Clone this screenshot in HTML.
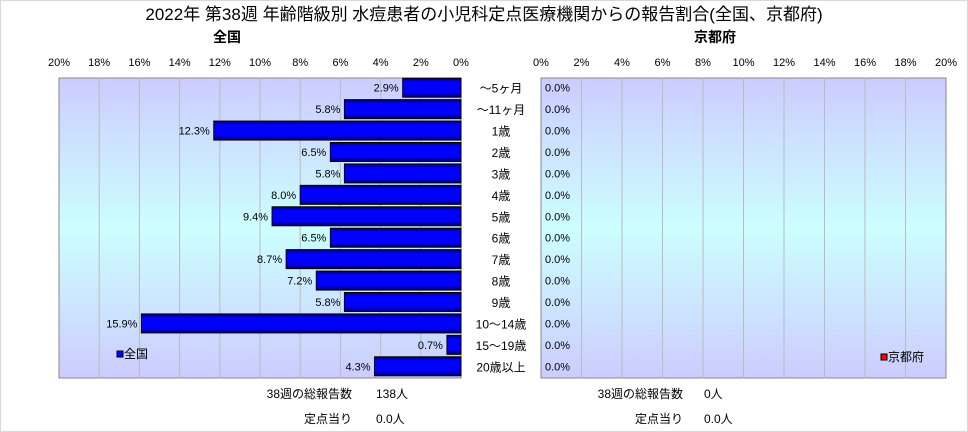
<!DOCTYPE html>
<html><head><meta charset="utf-8"><style>
body{margin:0;background:#fff;}
svg{display:block;font-family:"Liberation Sans","Noto Sans CJK JP",sans-serif;}
</style></head><body>
<svg id="c" width="968" height="432" viewBox="0 0 968 432" xmlns="http://www.w3.org/2000/svg">
<defs>
<linearGradient id="bg" x1="0" y1="0" x2="0" y2="1">
<stop offset="0" stop-color="#ccccff"/><stop offset="0.5" stop-color="#ccffff"/><stop offset="1" stop-color="#ccccff"/>
</linearGradient>
<linearGradient id="bar" x1="0" y1="0" x2="0" y2="1">
<stop offset="0" stop-color="#000066"/><stop offset="0.2" stop-color="#0000ff"/><stop offset="0.75" stop-color="#0000ff"/><stop offset="1" stop-color="#000066"/>
</linearGradient>
</defs>
<rect x="0.5" y="0.5" width="967" height="431" fill="#fff" stroke="#d8d8d8"/>
<text x="484" y="20" font-size="17" text-anchor="middle">2022年 第38週 年齢階級別 水痘患者の小児科定点医療機関からの報告割合(全国、京都府)</text>
<text x="227" y="42" font-size="14" font-weight="bold" text-anchor="middle">全国</text>
<text x="715" y="42" font-size="14" font-weight="bold" text-anchor="middle">京都府</text>
<rect x="59" y="78" width="402" height="300" fill="url(#bg)" stroke="#888"/>
<rect x="541" y="78" width="405" height="300" fill="url(#bg)" stroke="#888"/>
<g id="g"></g>
<rect x="117" y="351" width="6" height="6" fill="#0000ff" stroke="#000"/>
<text x="124" y="358" font-size="12">全国</text>
<rect x="881" y="354" width="6" height="6" fill="#ff0000" stroke="#000"/>
<text x="888" y="361" font-size="12">京都府</text>
<text x="352" y="398" font-size="12" text-anchor="end">38週の総報告数</text>
<text x="376" y="398" font-size="12">138人</text>
<text x="352" y="423" font-size="12" text-anchor="end">定点当り</text>
<text x="376" y="423" font-size="12">0.0人</text>
<text x="683" y="398" font-size="12" text-anchor="end">38週の総報告数</text>
<text x="704" y="398" font-size="12">0人</text>
<text x="683" y="423" font-size="12" text-anchor="end">定点当り</text>
<text x="704" y="423" font-size="12">0.0人</text>
</svg>
<script>
const categories=["～5ヶ月","～11ヶ月","1歳","2歳","3歳","4歳","5歳","6歳","7歳","8歳","9歳","10～14歳","15～19歳","20歳以上"];
const nationalValues=[2.9,5.8,12.3,6.5,5.8,8.0,9.4,6.5,8.7,7.2,5.8,15.9,0.7,4.3];
const kyotoValues=[0,0,0,0,0,0,0,0,0,0,0,0,0,0];
const tickValues=[0,2,4,6,8,10,12,14,16,18,20];
const NS="http://www.w3.org/2000/svg";
const g=document.getElementById('g');
const top0=78,plotH=300,rowH=plotH/categories.length;
const lx=v=>461-v/20*402;
const rx=v=>541+v/20*405;
const yC=i=>top0+rowH*(i+0.5);
function mk(t,a){const e=document.createElementNS(NS,t);for(const k in a)e.setAttribute(k,a[k]);g.appendChild(e);return e;}
tickValues.forEach(v=>{
  if(v>0&&v<20){
    const l1=mk('line',{x1:lx(v),x2:lx(v),y1:top0,y2:top0+plotH,stroke:'#bbb'});
    
    
    const l2=mk('line',{x1:rx(v),x2:rx(v),y1:top0,y2:top0+plotH,stroke:'#bbb'});
    
    
  }
  const t1=mk('text',{x:lx(v),y:66,'font-size':11,'text-anchor':'middle'});t1.textContent=v+'%';
  
  
  const t2=mk('text',{x:rx(v),y:66,'font-size':11,'text-anchor':'middle'});t2.textContent=v+'%';
  
  
});
categories.forEach((c,i)=>{
  const y=yC(i);
  const v=nationalValues[i];
  const b=mk('rect',{x:lx(v),y:y-10.5,width:461-lx(v),height:19,fill:'url(#bar)',stroke:'#000','stroke-width':1});
  
  
  const vl=mk('text',{x:lx(v)-4,y:y+3,'font-size':11,'text-anchor':'end'});vl.textContent=v.toFixed(1)+'%';
  
  
  const cl=mk('text',{x:501,y:y+4,'font-size':12,'text-anchor':'middle'});cl.textContent=c;
  
  
  const k=kyotoValues[i];
  if(k>0){const kb=mk('rect',{x:541,y:y-10.5,width:rx(k)-541,height:19,fill:'#ff0000',stroke:'#000'});
    
    }
  const kl=mk('text',{x:rx(k)+4,y:y+3,'font-size':11});kl.textContent=k.toFixed(1)+'%';
  
  
});
</script>
</body></html>
